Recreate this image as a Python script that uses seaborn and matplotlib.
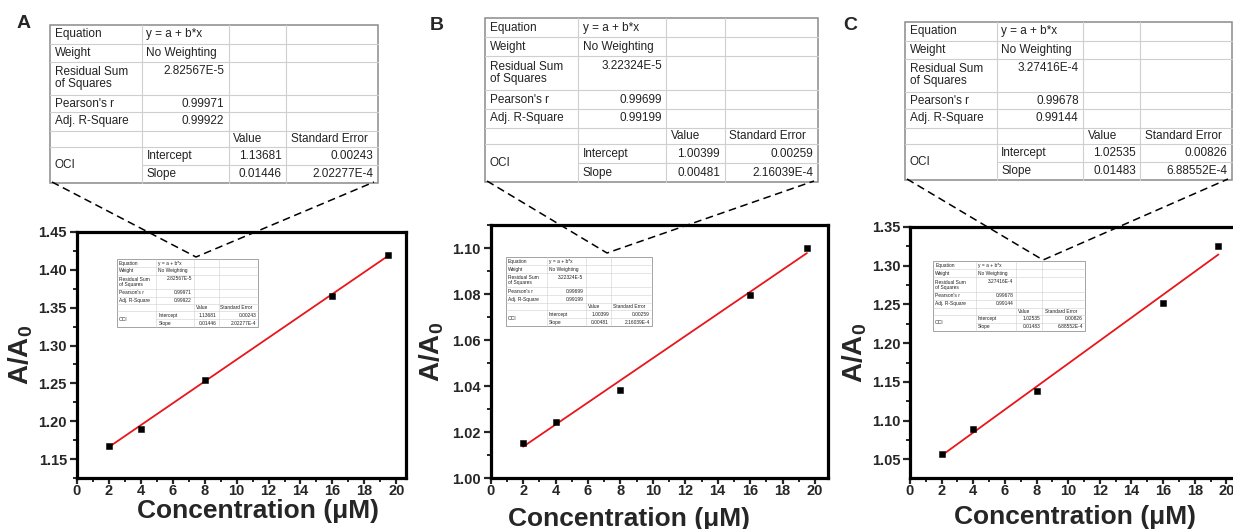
import matplotlib
matplotlib.use("Agg")
import numpy as np
import pandas as pd
import seaborn as sns
import matplotlib.pyplot as plt
from matplotlib.lines import Line2D
from matplotlib.ticker import MultipleLocator, FormatStrFormatter

# ---------------------------------------------------------
# DATA
# ---------------------------------------------------------
conc = [2, 4, 8, 16, 19.5]
ratio_a = [1.167, 1.190, 1.255, 1.366, 1.420]
ratio_b = [1.0154, 1.0242, 1.0381, 1.0795, 1.1001]
ratio_c = [1.0575, 1.0898, 1.1380, 1.2515, 1.3255]
ratios = [ratio_a, ratio_b, ratio_c]

panels = ["A", "B", "C"]
rss = ["2.82567E-5", "3.22324E-5", "3.27416E-4"]
pearson = ["0.99971", "0.99699", "0.99678"]
adj_r2 = ["0.99922", "0.99199", "0.99144"]
intercept = ["1.13681", "1.00399", "1.02535"]
intercept_se = ["0.00243", "0.00259", "0.00826"]
slope = ["0.01446", "0.00481", "0.01483"]
slope_se = ["2.02277E-4", "2.16039E-4", "6.88552E-4"]

# ---------------------------------------------------------
# LAYOUT (pixels of the 1233x529 canvas)
# ---------------------------------------------------------
W, H = 1233, 529
ax_px = [(76.7, 232, 406, 478), (490.7, 225, 828, 478), (910, 227, 1239, 478)]
ylims = [(1.125, 1.45), (1.00, 1.11), (1.026, 1.35)]
xmax = [20.6, 20.8, 20.8]
ymajor = [0.05, 0.02, 0.05]
xlabel_xy = [(0.55, -0.086), (0.41, -0.114), (0.5, -0.108)]
ylabel_xy = [(-0.128, 0.5), (-0.132, 0.5), (-0.125, 0.5)]
big_tab = [(50, 25, 378, 183), (485, 18, 818, 182), (905, 22, 1232, 180)]
small_tab = [(117, 259, 258, 327), (506, 257, 652, 326), (933, 261, 1085, 331)]
zoom_tip = [(196, 257), (607, 253), (1043, 260)]
letter_xy = [(17, 28), (430, 30), (843, 30)]

col_edges = [0, 0.28, 0.545, 0.72, 1.0]
row_edges = [0, 0.118, 0.233, 0.441, 0.553, 0.668, 0.77, 0.885, 1.0]

sns.set_style("white")
plt.rcParams["font.family"] = ["Liberation Sans", "DejaVu Sans"]
plt.rcParams["mathtext.fontset"] = "custom"
plt.rcParams["mathtext.rm"] = "Liberation Sans"
plt.rcParams["mathtext.bf"] = "Liberation Sans:bold"

fig = plt.figure(figsize=(W / 100, H / 100), dpi=100)


def px_rect(l, t, r, b):
    return [l / W, 1 - b / H, (r - l) / W, (b - t) / H]


def draw_table(rect, k, fs, lw):
    tax = fig.add_axes(px_rect(*rect))
    tax.set_xlim(0, 1)
    tax.set_ylim(1, 0)
    tax.set_axis_off()
    tax.add_patch(plt.Rectangle((0, 0), 1, 1, facecolor="white", edgecolor="none"))
    for c in col_edges[1:-1]:
        tax.plot([c, c], [0, 1], color="#cfcfcf", lw=lw, clip_on=False)
    for j, r in enumerate(row_edges[1:-1], start=1):
        x0 = col_edges[1] if j == 7 else 0
        tax.plot([x0, 1], [r, r], color="#cfcfcf", lw=lw, clip_on=False)
    tax.add_patch(plt.Rectangle((0, 0), 1, 1, fill=False, edgecolor="#8c8c8c",
                                lw=lw * 1.4, clip_on=False))
    cells = [
        (0, 0, "Equation", "l"), (0, 1, "y = a + b*x", "l"),
        (1, 0, "Weight", "l"), (1, 1, "No Weighting", "l"),
        (2, 0, "Residual Sum\nof Squares", "l"),
        (3, 0, "Pearson's r", "l"), (3, 1, pearson[k], "r"),
        (4, 0, "Adj. R-Square", "l"), (4, 1, adj_r2[k], "r"),
        (5, 2, "Value", "l"), (5, 3, "Standard Error", "l"),
        (6, 1, "Intercept", "l"), (6, 2, intercept[k], "r"), (6, 3, intercept_se[k], "r"),
        (7, 1, "Slope", "l"), (7, 2, slope[k], "r"), (7, 3, slope_se[k], "r"),
    ]
    pad = 0.014
    for r, c, txt, al in cells:
        y = (row_edges[r] + row_edges[r + 1]) / 2
        if al == "l":
            tax.text(col_edges[c] + pad, y, txt, ha="left", va="center", fontsize=fs,
                     color="#222222", linespacing=1.0)
        else:
            tax.text(col_edges[c + 1] - pad, y, txt, ha="right", va="center", fontsize=fs,
                     color="#222222")
    # residual value sits at the top of its tall row
    y_rss = row_edges[2] + (row_edges[1] - row_edges[0]) / 2
    tax.text(col_edges[2] - pad, y_rss, rss[k], ha="right", va="center", fontsize=fs, color="#222222")
    tax.text(col_edges[0] + pad, (row_edges[6] + row_edges[8]) / 2, "OCI", ha="left", va="center",
             fontsize=fs, color="#222222")


for k in range(3):
    ax = fig.add_axes(px_rect(*ax_px[k]))
    a, b = float(intercept[k]), float(slope[k])
    fit = pd.DataFrame({"x": [conc[0], conc[-1]]})
    fit["y"] = a + b * fit["x"]
    sns.lineplot(data=fit, x="x", y="y", color="#e8161b", lw=1.3, ax=ax)
    sns.scatterplot(x=conc, y=ratios[k], marker="s", color="black", edgecolor="black",
                    s=22, zorder=3, ax=ax)

    ax.set_xlim(0, xmax[k])
    ax.set_ylim(*ylims[k])
    ax.xaxis.set_major_locator(MultipleLocator(2))
    ax.xaxis.set_minor_locator(MultipleLocator(1))
    ax.yaxis.set_major_locator(MultipleLocator(ymajor[k]))
    ax.yaxis.set_minor_locator(MultipleLocator(ymajor[k] / 2))
    ax.yaxis.set_major_formatter(FormatStrFormatter("%.2f"))
    ax.tick_params(which="major", direction="out", length=5, width=1.6, pad=2,
                   labelsize=10.5, bottom=True, left=True)
    ax.tick_params(axis="x", which="major", length=4, pad=0.5)
    ax.tick_params(which="minor", direction="out", length=3, width=1.4, bottom=True, left=True)
    for lab in ax.get_xticklabels() + ax.get_yticklabels():
        lab.set_fontweight("bold")
    for sp in ax.spines.values():
        sp.set_linewidth(2.3)
        sp.set_color("black")

    ax.set_xlabel("Concentration (\u03bcM)", fontsize=19, fontweight="bold", va="top")
    ax.xaxis.set_label_coords(*xlabel_xy[k])
    ax.set_ylabel(r"A/A$_\mathbf{0}$", fontsize=20, fontweight="bold")
    ax.yaxis.set_label_coords(*ylabel_xy[k])

    # zoomed-in table above and its small copy inside the plot
    draw_table(big_tab[k], k, 8.5, 0.8)
    draw_table(small_tab[k], k, 3.5, 0.4)

    l, t, r, bb = big_tab[k]
    tx, ty = zoom_tip[k]
    fig.add_artist(Line2D([(l + 2) / W, tx / W, (r - 4) / W],
                          [1 - (bb - 1) / H, 1 - ty / H, 1 - (bb - 1) / H],
                          transform=fig.transFigure, color="black", lw=1.1,
                          linestyle=(0, (5, 3)), zorder=5))

    fig.text(letter_xy[k][0] / W, 1 - letter_xy[k][1] / H, panels[k], fontsize=14,
             fontweight="bold", ha="left", va="baseline")

fig.savefig("out.png", dpi=100)
